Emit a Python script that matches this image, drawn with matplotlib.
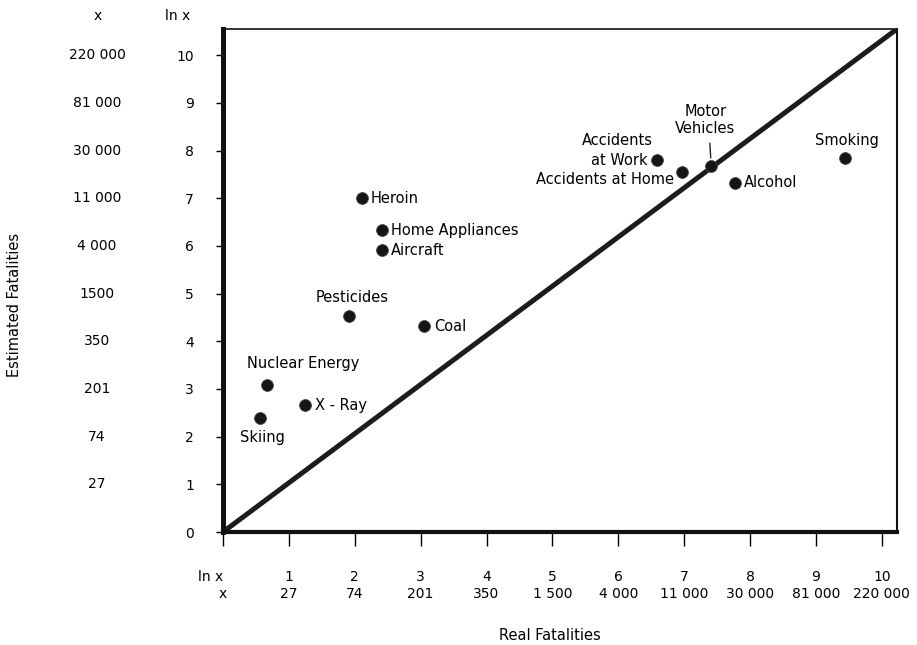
import matplotlib
matplotlib.use("Agg")
import matplotlib.pyplot as plt
import matplotlib.transforms as mtransforms

plt.rcParams['font.family'] = ['DejaVu Sans']

# ---- data (natural-log scale of fatalities) ----
hazards = ["Skiing", "Nuclear Energy", "X - Ray", "Pesticides", "Coal", "Heroin",
           "Home Appliances", "Aircraft", "Accidents at Work", "Accidents at Home",
           "Motor Vehicles", "Alcohol", "Smoking"]
real_ln = [0.56, 0.67, 1.24, 1.91, 3.05, 2.11, 2.41, 2.41, 6.59, 6.97, 7.41, 7.77, 9.44]
est_ln = [2.39, 3.08, 2.66, 4.53, 4.32, 7.00, 6.33, 5.91, 7.80, 7.55, 7.67, 7.32, 7.84]

tick_ln = [0, 1, 2, 3, 4, 5, 6, 7, 8, 9, 10]
tick_x = ["", "27", "74", "201", "350", "1 500", "4 000", "11 000", "30 000", "81 000", "220 000"]
ytick_x = ["", "27", "74", "201", "350", "1500", "4 000", "11 000", "30 000", "81 000", "220 000"]

# label placement (offset in pixels, alignment)
label_style = {
    "Skiing": ((3, -19), "center", "center"),
    "Nuclear Energy": ((36, 22), "center", "center"),
    "X - Ray": ((10, 0), "left", "center"),
    "Pesticides": ((3, 19), "center", "center"),
    "Coal": ((10, 0), "left", "center"),
    "Heroin": ((9, 0), "left", "center"),
    "Home Appliances": ((9, 0), "left", "center"),
    "Aircraft": ((9, 0), "left", "center"),
    "Accidents at Home": ((-8, -7), "right", "center"),
    "Alcohol": ((9, 0), "left", "center"),
    "Smoking": ((2, 18), "center", "center"),
}

W, H = 917, 645
fig = plt.figure(figsize=(W / 100, H / 100), dpi=100)
ax = fig.add_axes([223 / W, 1 - 532 / H, (897 - 223) / W, (532 - 29) / H])
ax.set_xlim(0, 10.23)
ax.set_ylim(0, 10.55)

# diagonal (estimated = real)
ax.plot([0, 1], [0, 1], transform=ax.transAxes, color="#1c1c1c", lw=3.6,
        solid_capstyle="butt", zorder=2)

ax.plot(real_ln, est_ln, "o", ms=8.5, color="#151515", mec="#444444", mew=0.6,
        zorder=3, linestyle="none")

fs = 10.5
for name, xv, yv in zip(hazards, real_ln, est_ln):
    if name == "Motor Vehicles":
        ax.annotate("Motor\nVehicles", (xv, yv), xytext=(-6, 46),
                    textcoords="offset pixels", ha="center", va="center",
                    fontsize=fs, linespacing=1.15,
                    arrowprops=dict(arrowstyle="-", color="#222222", lw=1.0,
                                    relpos=(0.57, 0), shrinkA=3, shrinkB=6))
        continue
    if name == "Accidents at Work":
        ax.annotate("at Work", (xv, yv), xytext=(-10, 0), textcoords="offset pixels",
                    ha="right", va="center", fontsize=fs)
        ax.annotate("Accidents", (xv, yv), xytext=(-75, 20), textcoords="offset pixels",
                    ha="left", va="center", fontsize=fs)
        continue
    (dx, dy), ha, va = label_style[name]
    ax.annotate(name, (xv, yv), xytext=(dx, dy), textcoords="offset pixels",
                ha=ha, va=va, fontsize=fs)

# spines
for side, lw in [("left", 3.6), ("bottom", 3.0), ("top", 1.2), ("right", 1.5)]:
    ax.spines[side].set_linewidth(lw)
    ax.spines[side].set_color("#111111")

# y ticks: ln x column
ax.set_yticks(tick_ln)
ax.set_yticklabels([str(t) for t in tick_ln], fontsize=10)
ax.tick_params(axis="y", direction="out", length=5, width=1, pad=16)
# x ticks
ax.set_xticks(tick_ln)
ax.set_xticklabels([])
ax.tick_params(axis="x", direction="out", length=10, width=1)

# x tick label rows
tr_x = mtransforms.blended_transform_factory(ax.transData, fig.transFigure)
for t, lab in zip(tick_ln, tick_x):
    if t > 0:
        ax.text(t, 1 - 577 / H, str(t), transform=tr_x, ha="center", va="center", fontsize=10)
        ax.text(t, 1 - 594 / H, lab, transform=tr_x, ha="center", va="center", fontsize=10)
ax.text(0, 1 - 577 / H, "ln x", transform=tr_x, ha="right", va="center", fontsize=10)
ax.text(0, 1 - 594 / H, "x", transform=tr_x, ha="center", va="center", fontsize=10)

# y x-value column
tr_y = mtransforms.blended_transform_factory(fig.transFigure, ax.transData)
for t, lab in zip(tick_ln, ytick_x):
    if lab:
        ax.text(97 / W, t, lab, transform=tr_y, ha="center", va="center", fontsize=10)
fig.text(98 / W, 1 - 16 / H, "x", ha="center", va="center", fontsize=10)
fig.text(178 / W, 1 - 16 / H, "ln x", ha="center", va="center", fontsize=10)

# axis titles
fig.text(15 / W, 1 - 305 / H, "Estimated Fatalities", rotation=90, ha="center",
         va="center", fontsize=10.5)
fig.text(550 / W, 1 - 635 / H, "Real Fatalities", ha="center", va="center", fontsize=10.5)

fig.savefig("out.png", dpi=100)
